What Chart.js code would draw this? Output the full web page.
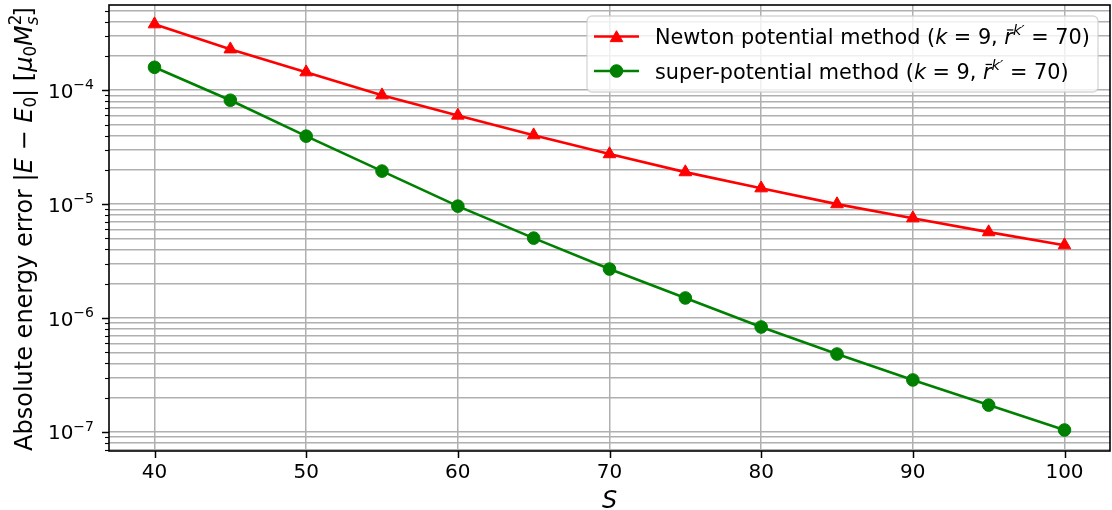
<!DOCTYPE html>
<html>
<head>
<meta charset="utf-8">
<script src="https://cdn.jsdelivr.net/npm/chart.js@4.4.1/dist/chart.umd.min.js"></script>
<style>
html, body { margin: 0; padding: 0; background: #fff; }
#wrap { width: 1112px; height: 510px; position: relative; }
</style>
</head>
<body>
<div id="wrap"><canvas id="mycanvas"></canvas></div>
<script>
// data
var sValues = [40, 45, 50, 55, 60, 65, 70, 75, 80, 85, 90, 95, 100];
var newtonError = [3.8e-4, 2.29e-4, 1.44e-4, 9.04e-5, 6.0e-5, 4.03e-5, 2.75e-5, 1.91e-5, 1.38e-5, 1.0e-5, 7.53e-6, 5.68e-6, 4.36e-6];
var superError = [1.59e-4, 8.17e-5, 3.95e-5, 1.95e-5, 9.6e-6, 5.03e-6, 2.69e-6, 1.5e-6, 8.34e-7, 4.83e-7, 2.86e-7, 1.72e-7, 1.04e-7];
var xTicks = [40, 50, 60, 70, 80, 90, 100];
var yDecades = [-8, -7, -6, -5, -4, -3];
var yMinor = [1, 2, 3, 4, 5, 6, 7, 8, 9];

var fam = '"DejaVu Sans", sans-serif';
var red = '#ff0000', green = '#008000';

function segFont(s, size) {
    return (s.it ? 'italic ' : '') + (size * (s.sc || 1)) + 'px ' + fam;
}
function richWidth(ctx, segs, size) {
    var w = 0;
    segs.forEach(function(s) {
        ctx.font = segFont(s, size);
        if (!s.noAdv) w += ctx.measureText(s.t).width;
    });
    return w;
}
function drawRich(ctx, segs, x, y, size) {
    segs.forEach(function(s) {
        ctx.font = segFont(s, size);
        var yy = y + (s.dy || 0) * size;
        ctx.fillText(s.t, x, yy);
        var w = ctx.measureText(s.t).width;
        if (s.bar) {
            // overbar for r-bar
            ctx.save();
            ctx.strokeStyle = ctx.fillStyle;
            ctx.lineWidth = size * 0.06;
            ctx.beginPath();
            ctx.moveTo(x + w * 0.3, yy - size * 0.68);
            ctx.lineTo(x + w * 1.05, yy - size * 0.68);
            ctx.stroke();
            ctx.restore();
        }
        if (!s.noAdv) x += w;
    });
}

var newtonLabel = [
    {t: 'Newton potential method ('}, {t: 'k', it: 1}, {t: ' = 9, '},
    {t: 'r', it: 1, bar: 1}, {t: 'k\u2032', it: 1, sc: 0.7, dy: -0.42}, {t: ' = 70)'}
];
var superLabel = [
    {t: 'super-potential method ('}, {t: 'k', it: 1}, {t: ' = 9, '},
    {t: 'r', it: 1, bar: 1}, {t: 'k\u2032', it: 1, sc: 0.7, dy: -0.42}, {t: ' = 70)'}
];
var yTitle = [
    {t: 'Absolute energy error |'}, {t: 'E', it: 1}, {t: ' \u2212 '}, {t: 'E', it: 1},
    {t: '0', sc: 0.7, dy: 0.2}, {t: '| ['}, {t: '\u03bc', it: 1}, {t: '0', sc: 0.7, dy: 0.2},
    {t: 'M', it: 1}, {t: '2', sc: 0.7, dy: -0.45, noAdv: true}, {t: 's', it: 1, sc: 0.7, dy: 0.25},
    {t: ']'}
];

var decor = {
    id: 'decor',
    afterDraw: function(chart) {
        var ctx = chart.ctx, ca = chart.chartArea;
        var xs = chart.scales.x, ys = chart.scales.y;
        ctx.save();
        ctx.strokeStyle = '#000';
        ctx.fillStyle = '#000';

        // tick marks
        ctx.lineWidth = 1.5;
        xs.ticks.forEach(function(t) {
            var px = Math.round(xs.getPixelForValue(t.value)) + 0.5;
            ctx.beginPath(); ctx.moveTo(px, ca.bottom); ctx.lineTo(px, ca.bottom + 7); ctx.stroke();
        });
        ys.ticks.forEach(function(t) {
            var py = Math.round(ys.getPixelForValue(t.value)) + 0.5;
            var lg = Math.log10(t.value);
            var major = Math.abs(lg - Math.round(lg)) < 1e-9;
            ctx.lineWidth = major ? 1.5 : 1.1;
            ctx.beginPath(); ctx.moveTo(ca.left - (major ? 7 : 4), py); ctx.lineTo(ca.left, py); ctx.stroke();
        });

        // y tick labels 10^n
        ctx.textAlign = 'left';
        ctx.textBaseline = 'alphabetic';
        yDecades.forEach(function(e) {
            var v = Math.pow(10, e);
            if (v < ys.min || v > ys.max) return;
            var py = ys.getPixelForValue(v);
            var segs = [{t: '10'}, {t: '\u2212' + Math.abs(e), sc: 0.7, dy: -0.42}];
            var w = richWidth(ctx, segs, 20);
            drawRich(ctx, segs, 94 - w, py + 7.5, 20);
        });

        // spines
        ctx.lineWidth = 1.6;
        ctx.strokeRect(ca.left, ca.top, ca.right - ca.left, ca.bottom - ca.top);

        // x title
        ctx.font = 'italic 24px ' + fam;
        ctx.textAlign = 'center';
        ctx.fillText('S', (ca.left + ca.right) / 2, 508);

        // y title
        ctx.save();
        ctx.translate(31.5, (ca.top + ca.bottom) / 2 + 1);
        ctx.rotate(-Math.PI / 2);
        ctx.textAlign = 'left';
        var tw = richWidth(ctx, yTitle, 24);
        drawRich(ctx, yTitle, -tw / 2, 0, 24);
        ctx.restore();

        // legend
        var bx = 587, by = 16, bw = 511, bh = 76, r = 5;
        ctx.beginPath();
        ctx.moveTo(bx + r, by);
        ctx.lineTo(bx + bw - r, by); ctx.arcTo(bx + bw, by, bx + bw, by + r, r);
        ctx.lineTo(bx + bw, by + bh - r); ctx.arcTo(bx + bw, by + bh, bx + bw - r, by + bh, r);
        ctx.lineTo(bx + r, by + bh); ctx.arcTo(bx, by + bh, bx, by + bh - r, r);
        ctx.lineTo(bx, by + r); ctx.arcTo(bx, by, bx + r, by, r);
        ctx.closePath();
        ctx.fillStyle = 'rgba(255,255,255,0.8)';
        ctx.fill();
        ctx.strokeStyle = 'rgba(204,204,204,0.8)';
        ctx.lineWidth = 1.3;
        ctx.stroke();

        var rows = [
            {segs: newtonLabel, color: red, style: 'triangle', rad: 7.3, y: 36.5},
            {segs: superLabel, color: green, style: 'circle', rad: 6.3, y: 71}
        ];
        rows.forEach(function(row) {
            ctx.strokeStyle = row.color;
            ctx.fillStyle = row.color;
            ctx.lineWidth = 2.6;
            ctx.beginPath(); ctx.moveTo(594, row.y); ctx.lineTo(639, row.y); ctx.stroke();
            ctx.lineWidth = 1;
            Chart.helpers.drawPoint(ctx, {pointStyle: row.style, radius: row.rad, rotation: 0, borderWidth: 1}, 616.5, row.y + (row.style === 'triangle' ? 1.5 : 0));
            ctx.fillStyle = '#000';
            ctx.textAlign = 'left';
            drawRich(ctx, row.segs, 655, row.y + 7.6, 20.8);
        });
        ctx.restore();
    }
};

var ctx = document.getElementById('mycanvas');

var chartdata = {
    datasets: [
        {
            label: 'Newton potential method',
            data: sValues.map(function(s, i) { return {x: s, y: newtonError[i]}; }),
            borderColor: red,
            backgroundColor: red,
            borderWidth: 2.6,
            pointStyle: 'triangle',
            pointRadius: 7.3,
            pointBorderWidth: 1,
            tension: 0
        },
        {
            label: 'super-potential method',
            data: sValues.map(function(s, i) { return {x: s, y: superError[i]}; }),
            borderColor: green,
            backgroundColor: green,
            borderWidth: 2.6,
            pointStyle: 'circle',
            pointRadius: 6.3,
            pointBorderWidth: 1,
            tension: 0
        }
    ]
};

var LineGraph = new Chart(ctx, {
    type: 'line',
    data: chartdata,
    options: {
        responsive: true,
        maintainAspectRatio: false,
        animation: false,
        events: [],
        layout: { autoPadding: false, padding: { left: 0, top: 5, right: 2, bottom: 0 } },
        plugins: { legend: { display: false }, tooltip: { enabled: false } },
        scales: {
            x: {
                type: 'linear',
                min: 37,
                max: 103,
                afterBuildTicks: function(scale) {
                    scale.ticks = xTicks.map(function(v) { return {value: v}; });
                },
                afterFit: function(scale) {
                    scale.height = 59;
                    scale.paddingLeft = 0;
                    scale.paddingRight = 0;
                },
                grid: { color: '#b0b0b0', lineWidth: 1.5, drawTicks: false },
                border: { display: false },
                ticks: {
                    autoSkip: false,
                    maxRotation: 0,
                    padding: 10,
                    color: '#000',
                    font: { family: fam, size: 20 }
                }
            },
            y: {
                type: 'logarithmic',
                min: 6.8e-8,
                max: 5.6e-4,
                afterBuildTicks: function(scale) {
                    var t = [];
                    yDecades.forEach(function(e) {
                        yMinor.forEach(function(m) {
                            var v = m * Math.pow(10, e);
                            if (v >= scale.min && v <= scale.max) t.push({value: v});
                        });
                    });
                    scale.ticks = t;
                },
                afterFit: function(scale) {
                    scale.width = 109;
                    scale.paddingTop = 0;
                    scale.paddingBottom = 0;
                },
                grid: { color: '#b0b0b0', lineWidth: 1.5, drawTicks: false },
                border: { display: false },
                ticks: { display: false, autoSkip: false }
            }
        }
    },
    plugins: [decor]
});
</script>
</body>
</html>
